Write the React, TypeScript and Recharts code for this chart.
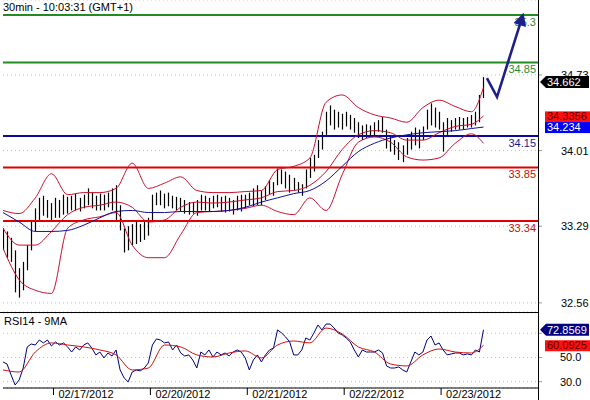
import React from "react";
import {
  ComposedChart, Bar, Line, XAxis, YAxis, CartesianGrid, ReferenceLine,
} from "recharts";

const FONT = "'Liberation Sans', Arial, sans-serif";

// time axis: half-hour slots counted from the left edge, 48 slots per trading day
const dayTicks = [25, 73, 121, 169, 217];
const dayLabels = ["02/17/2012", "02/20/2012", "02/21/2012", "02/22/2012", "02/23/2012"];

// hourly bars (every 2 slots)
const barTimes = Array.from({ length: 120 }, (_, i) => i * 2);
const highs = [
  33.27, 33.24, 33.18, 33.06, 32.89, 32.95, 33.11, 33.35, 33.46, 33.56,
  33.58, 33.54, 33.51, 33.56, 33.54, 33.59, 33.57, 33.58, 33.60, 33.56,
  33.59, 33.65, 33.61, 33.58, 33.60, 33.59, 33.61, 33.65, 33.68, 33.49,
  33.27, 33.29, 33.31, 33.33, 33.31, 33.35, 33.37, 33.59, 33.61, 33.63,
  33.60, 33.61, 33.58, 33.57, 33.56, 33.54, 33.52, 33.52, 33.54, 33.59,
  33.58, 33.56, 33.58, 33.59, 33.57, 33.58, 33.56, 33.54, 33.58, 33.59,
  33.59, 33.61, 33.65, 33.68, 33.63, 33.67, 33.73, 33.71, 33.84, 33.83,
  33.81, 33.78, 33.75, 33.71, 33.69, 33.83, 33.94, 33.97, 34.11, 34.19,
  34.38, 34.44, 34.40, 34.38, 34.36, 34.38, 34.35, 34.32, 34.28, 34.25,
  34.26, 34.25, 34.28, 34.30, 34.33, 34.21, 34.14, 34.11, 34.09, 34.06,
  34.13, 34.19, 34.23, 34.21, 34.24, 34.40, 34.46, 34.42, 34.38, 34.28,
  34.32, 34.30, 34.32, 34.33, 34.32, 34.33, 34.35, 34.38, 34.54, 34.71,
];
const lows = [
  33.06, 32.99, 32.95, 32.66, 32.61, 32.68, 32.87, 33.06, 33.24, 33.35,
  33.39, 33.37, 33.33, 33.37, 33.37, 33.40, 33.41, 33.44, 33.44, 33.43,
  33.46, 33.49, 33.46, 33.44, 33.44, 33.44, 33.47, 33.44, 33.35, 33.25,
  33.04, 33.06, 33.11, 33.12, 33.14, 33.16, 33.20, 33.33, 33.49, 33.49,
  33.46, 33.48, 33.46, 33.44, 33.43, 33.41, 33.40, 33.41, 33.39, 33.44,
  33.44, 33.43, 33.46, 33.47, 33.43, 33.42, 33.43, 33.40, 33.44, 33.43,
  33.46, 33.49, 33.48, 33.49, 33.49, 33.54, 33.59, 33.58, 33.68, 33.69,
  33.65, 33.61, 33.63, 33.61, 33.58, 33.65, 33.75, 33.81, 33.94, 34.02,
  34.16, 34.25, 34.21, 34.23, 34.21, 34.24, 34.21, 34.18, 34.13, 34.11,
  34.13, 34.14, 34.15, 34.19, 34.18, 34.03, 34.00, 33.97, 33.92, 33.90,
  33.97, 34.02, 34.06, 34.03, 34.11, 34.21, 34.25, 34.23, 34.21, 34.00,
  34.16, 34.19, 34.21, 34.21, 34.21, 34.23, 34.23, 34.25, 34.28, 34.51,
];

// Bollinger bands and moving average, sampled every 8 slots
const bandTimes = [
  0, 8, 16, 24, 32, 40, 48, 56, 64, 72, 80, 88, 96, 104, 112, 120,
  128, 136, 144, 152, 160, 168, 176, 184, 192, 200, 208, 216, 224, 232, 238,
];
const bbUpper = [
  33.44, 33.41, 33.56, 33.79, 33.59, 33.61, 33.61, 33.65, 33.89, 33.65,
  33.70, 33.76, 33.63, 33.61, 33.61, 33.62, 33.63, 33.83, 33.86, 33.94,
  34.47, 34.54, 34.42, 34.35, 34.32, 34.28, 34.42, 34.49, 34.43, 34.38, 34.61,
];
const bbMiddle = [
  33.27, 33.11, 33.11, 33.24, 33.40, 33.47, 33.49, 33.52, 33.47, 33.33,
  33.35, 33.47, 33.52, 33.51, 33.52, 33.54, 33.56, 33.62, 33.63, 33.68,
  33.81, 34.02, 34.16, 34.20, 34.18, 34.11, 34.11, 34.18, 34.24, 34.26, 34.34,
];
const bbLower = [
  33.08, 32.78, 32.68, 32.65, 33.27, 33.35, 33.38, 33.42, 33.11, 32.99,
  32.99, 33.21, 33.42, 33.43, 33.44, 33.46, 33.49, 33.43, 33.40, 33.56,
  33.44, 33.78, 34.09, 34.14, 34.09, 33.95, 33.92, 33.94, 34.08, 34.17, 34.08,
];
const maLine = [
  33.42, 33.33, 33.24, 33.24, 33.25, 33.30, 33.37, 33.43, 33.44, 33.42,
  33.42, 33.43, 33.43, 33.43, 33.44, 33.47, 33.52, 33.56, 33.60, 33.63,
  33.72, 33.86, 34.00, 34.08, 34.13, 34.16, 34.18, 34.19, 34.20, 34.22, 34.234,
];

// RSI(14) per bar and its 9-period average
const rsi = [
  46.3, 44.6, 35.6, 27.3, 31.4, 41.3, 58.7, 61.1, 60.3, 64.4,
  62.0, 64.4, 59.5, 62.8, 60.3, 62.0, 58.7, 54.5, 58.7, 56.2,
  60.3, 62.0, 57.8, 52.1, 54.5, 49.6, 53.7, 51.2, 56.2, 39.7,
  33.1, 29.8, 38.0, 39.7, 38.9, 41.3, 45.5, 60.3, 65.3, 64.4,
  62.0, 62.8, 56.2, 60.3, 53.7, 51.2, 52.1, 47.9, 41.3, 54.5,
  52.1, 56.2, 50.4, 54.5, 52.1, 53.7, 51.2, 54.5, 56.2, 54.5,
  49.6, 39.7, 47.9, 52.1, 46.3, 52.1, 56.2, 57.8, 72.7, 70.2,
  66.9, 62.8, 52.1, 52.1, 56.2, 66.1, 64.4, 70.2, 76.8, 72.7,
  77.6, 77.6, 74.3, 70.2, 68.6, 66.1, 62.8, 56.2, 50.4, 56.2,
  54.5, 54.5, 54.5, 56.2, 53.7, 43.0, 41.3, 41.3, 42.2, 39.7,
  38.0, 46.3, 54.5, 52.1, 54.5, 64.4, 67.7, 60.3, 62.0, 56.2,
  52.1, 52.9, 53.7, 53.7, 52.1, 52.9, 52.1, 56.2, 54.5, 72.8569,
];
const rsiMa = [
  39.7, 38.0, 54.5, 62.0, 60.3, 58.7, 56.2, 52.1, 39.7, 41.3,
  60.3, 58.7, 52.1, 50.4, 53.7, 55.4, 49.6, 60.3, 63.6, 62.0,
  74.3, 69.4, 58.7, 54.5, 44.6, 43.0, 52.1, 57.0, 54.5, 53.7, 60.0925,
];

// forecast arrow drawn on the chart
const arrowTimes = [239.7, 244.7, 257.5];
const arrowPrices = [34.70, 34.52, 35.30];

const priceTicks = [32.56, 33.29, 34.01, 34.73];
const rsiTicks = [30, 50, 70];
const levels = [
  { v: 35.3, text: "35.3", color: "#228b22", text2: "#2e8b2e" },
  { v: 34.85, text: "34.85", color: "#228b22", text2: "#2e8b2e" },
  { v: 34.15, text: "34.15", color: "#0a0aa0", text2: "#1a1a90" },
  { v: 33.85, text: "33.85", color: "#e00000", text2: "#c01010" },
  { v: 33.34, text: "33.34", color: "#e00000", text2: "#c01010" },
];

const bars = barTimes.map((t, i) => ({ t, high: highs[i], low: lows[i] }));
const toSeries = (vals: number[]) => bandTimes.map((t, i) => ({ t, v: vals[i] }));
const upperData = toSeries(bbUpper);
const middleData = toSeries(bbMiddle);
const lowerData = toSeries(bbLower);
const maData = toSeries(maLine);
const rsiData = barTimes.map((t, i) => ({ t, v: rsi[i] }));
const rsiMaData = toSeries(rsiMa);
const arrowData = arrowTimes.map((t, i) => ({ t, p: arrowPrices[i] }));

const PriceBar = (props: any) => {
  const { x, y, width, height } = props;
  if (x == null || y == null) return null;
  const cx = Math.round(x + width / 2) + 0.5;
  const top = Math.min(y, y + height);
  const h = Math.max(Math.abs(height), 1);
  return <line x1={cx} x2={cx} y1={top} y2={top + h} stroke="#000" strokeWidth={1.2} />;
};

const LevelLabel = (props: any) => {
  const { viewBox, text, color } = props;
  if (!viewBox) return null;
  return (
    <text x={viewBox.x + viewBox.width - 2} y={viewBox.y + 11} textAnchor="end"
      fontSize={11} fontFamily={FONT} fill={color}>{text}</text>
  );
};

const Tag = (props: any) => {
  const { viewBox, text, bg, fg, pointer } = props;
  if (!viewBox) return null;
  const x0 = viewBox.x + viewBox.width;
  const y = viewBox.y;
  return (
    <g>
      {pointer ? (
        <polygon
          points={`${x0 + 2},${y} ${x0 + 8},${y - 6} ${x0 + 51},${y - 6} ${x0 + 51},${y + 6} ${x0 + 8},${y + 6}`}
          fill={bg}
        />
      ) : (
        <rect x={x0 + 7} y={y - 5} width={45} height={11} fill={bg} />
      )}
      <text x={pointer ? x0 + 9 : x0 + 9} y={y + 4} fontSize={11} fontFamily={FONT} fill={fg}>{text}</text>
    </g>
  );
};

const PriceTick = (props: any) => {
  const { x, y, payload } = props;
  return (
    <text x={x + 17} y={y + 4} fontSize={11} fontFamily={FONT} fill="#000">{payload.value.toFixed(2)}</text>
  );
};

const RsiTick = (props: any) => {
  const { x, y, payload } = props;
  if (payload.value === 70) return null;
  return (
    <text x={x + 16} y={y + 4} fontSize={11} fontFamily={FONT} fill="#000">{payload.value.toFixed(1)}</text>
  );
};

const DateTick = (props: any) => {
  const { x, y, payload } = props;
  const label = dayLabels[dayTicks.indexOf(payload.value)];
  return (
    <text x={x + 5} y={y + 3} fontSize={11} fontFamily={FONT} fill="#000">{label}</text>
  );
};

export default function App() {
  return (
    <div style={{ position: "absolute", left: 0, top: 0, width: 590, height: 400, background: "#fff", overflow: "hidden" }}>
      <div style={{ position: "absolute", left: 0, top: 0 }}>
        <ComposedChart width={590} height={312} data={bars} margin={{ top: 0, right: 0, bottom: 0, left: 3 }}>
          <defs>
            <marker id="fcArrowHead" viewBox="0 0 10 10" refX="8" refY="5" markerWidth="16" markerHeight="13"
              markerUnits="userSpaceOnUse" orient="auto">
              <path d="M0,0 L10,5 L0,10 z" fill="#1e1e8c" />
            </marker>
          </defs>
          <CartesianGrid vertical={false} stroke="#c0c0c0" strokeDasharray="1 3" />
          <XAxis type="number" dataKey="t" domain={[0, 265]} hide allowDataOverflow />
          <YAxis orientation="right" width={52} domain={[32.473, 35.444]} ticks={priceTicks}
            allowDataOverflow axisLine={false} tickLine={{ stroke: "#999" }} tickSize={4} tick={<PriceTick />} />
          {levels.map((l) => (
            <ReferenceLine key={l.text} y={l.v} stroke={l.color} strokeWidth={2}
              label={<LevelLabel text={l.text} color={l.text2} />} />
          ))}
          <Bar dataKey={(d: any) => [d.low, d.high]} barSize={1} shape={PriceBar} isAnimationActive={false} />
          <Line data={upperData} dataKey="v" type="monotone" stroke="#c8102e" strokeWidth={1} dot={false} isAnimationActive={false} />
          <Line data={lowerData} dataKey="v" type="monotone" stroke="#c8102e" strokeWidth={1} dot={false} isAnimationActive={false} />
          <Line data={middleData} dataKey="v" type="monotone" stroke="#c8102e" strokeWidth={1} dot={false} isAnimationActive={false} />
          <Line data={maData} dataKey="v" type="monotone" stroke="#10109a" strokeWidth={1} dot={false} isAnimationActive={false} />
          <Line data={arrowData} dataKey="p" type="linear" stroke="#1e1e8c" strokeWidth={2.6} dot={false}
            markerEnd="url(#fcArrowHead)" isAnimationActive={false} />
          <ReferenceLine y={34.662} stroke="none" label={<Tag text="34.662" bg="#000" fg="#fff" pointer />} />
          <ReferenceLine y={34.3356} stroke="none" label={<Tag text="34.3356" bg="#ff1010" fg="#5a0000" />} />
          <ReferenceLine y={34.234} stroke="none" label={<Tag text="34.234" bg="#0000ff" fg="#fff" />} />
        </ComposedChart>
      </div>
      <div style={{ position: "absolute", left: 0, top: 313 }}>
        <ComposedChart width={590} height={87} data={rsiData} margin={{ top: 0, right: 0, bottom: 0, left: 3 }}>
          <CartesianGrid vertical={false} stroke="#c0c0c0" strokeDasharray="1 3" />
          <XAxis type="number" dataKey="t" domain={[0, 265]} ticks={dayTicks} allowDataOverflow height={12}
            axisLine={{ stroke: "#000" }} tickLine={{ stroke: "#000" }} tickSize={7} tickMargin={0} tick={<DateTick />} />
          <YAxis orientation="right" width={52} domain={[24.8, 86.7]} ticks={rsiTicks} allowDataOverflow
            axisLine={false} tickLine={{ stroke: "#999" }} tickSize={4} tick={<RsiTick />} />
          <Line dataKey="v" type="linear" stroke="#000080" strokeWidth={1} dot={false} isAnimationActive={false} />
          <Line data={rsiMaData} dataKey="v" type="monotone" stroke="#d01010" strokeWidth={1} dot={false} isAnimationActive={false} />
          <ReferenceLine y={72.8569} stroke="none" label={<Tag text="72.8569" bg="#000080" fg="#fff" pointer />} />
          <ReferenceLine y={60.0925} stroke="none" label={<Tag text="60.0925" bg="#ff1010" fg="#5a0000" />} />
        </ComposedChart>
      </div>
      <div style={{ position: "absolute", left: 0, top: 312, width: 538, height: 1, background: "#000" }} />
      <div style={{ position: "absolute", left: 538, top: 0, width: 1, height: 400, background: "#000" }} />
      <div style={{ position: "absolute", left: 3, top: 1, fontFamily: FONT, fontSize: 11, lineHeight: "12px", color: "#000" }}>
        30min - 10:03:31 (GMT+1)
      </div>
      <div style={{ position: "absolute", left: 4, top: 315, fontFamily: FONT, fontSize: 11, lineHeight: "12px", color: "#000" }}>
        RSI14 - 9MA
      </div>
    </div>
  );
}
